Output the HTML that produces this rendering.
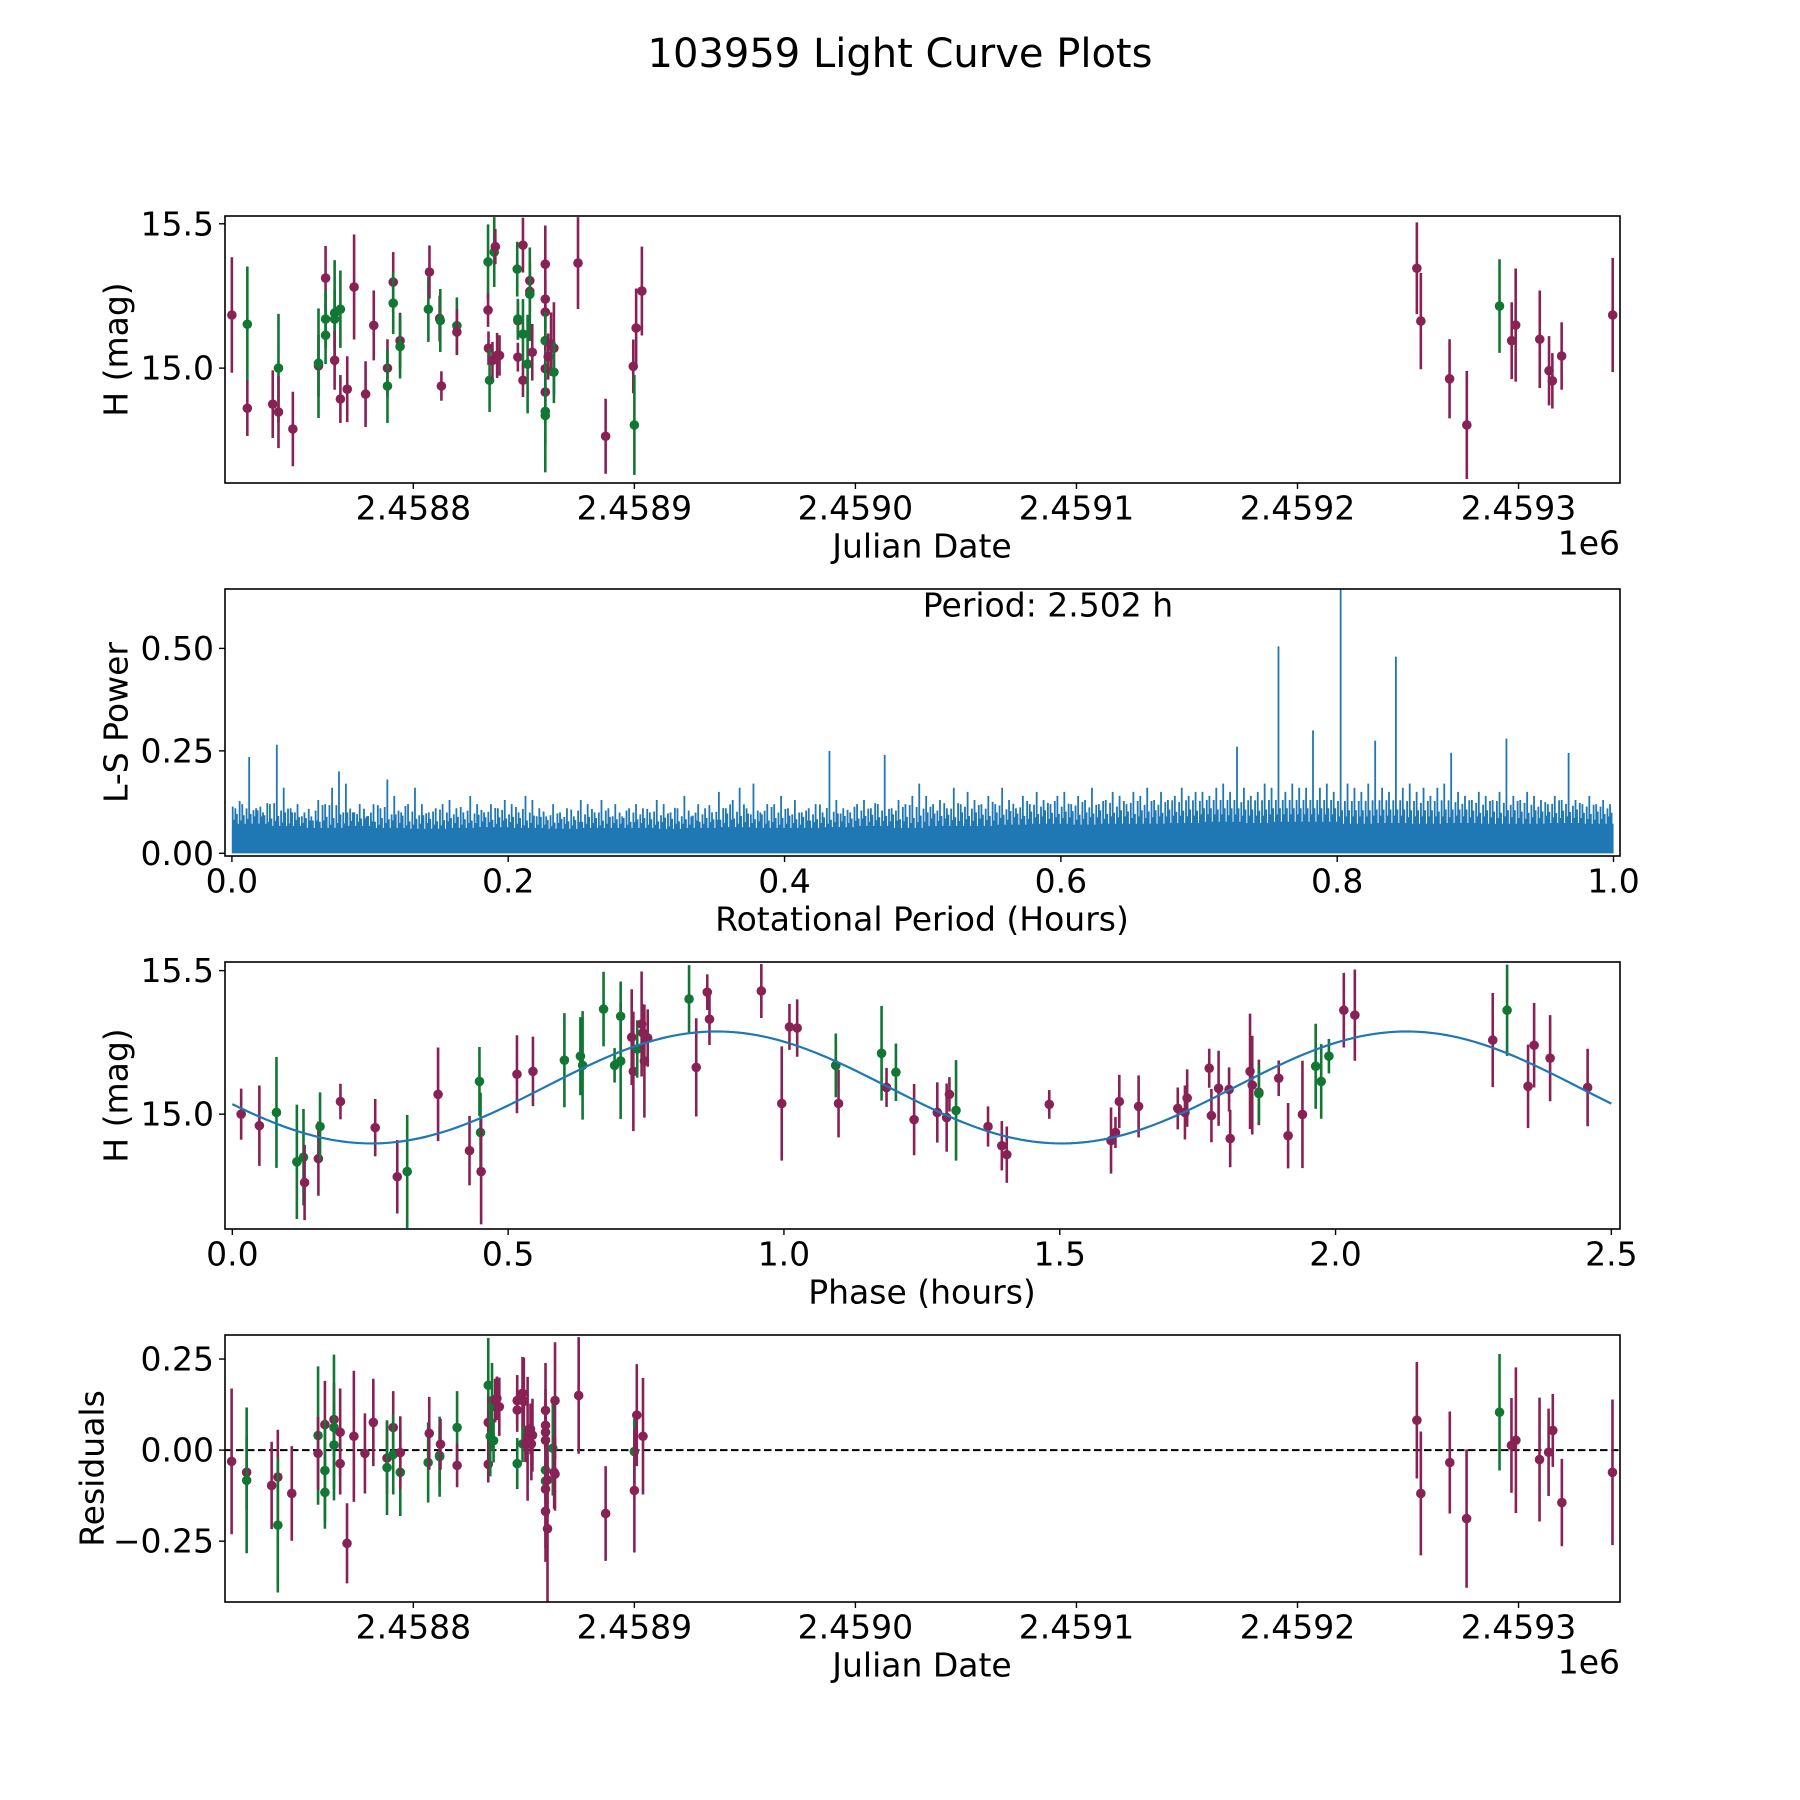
<!DOCTYPE html>
<html><head><meta charset="utf-8"><style>
html,body{margin:0;padding:0;background:#fff}
svg{display:block;font-family:"DejaVu Sans","Liberation Sans",sans-serif}
</style></head><body>
<svg id="fig" width="1800" height="1800" viewBox="0 0 1800 1800" xmlns="http://www.w3.org/2000/svg">
<rect width="1800" height="1800" fill="#fff"/>
<text x="900" y="54" font-size="40" text-anchor="middle" dominant-baseline="central">103959 Light Curve Plots</text>
</svg>
<script>
// ---- Panel 1: light curve (days relative to JD 2458800) ----
const lcDays=[-82.1,-75.1,-75.1,-63.6,-61.0,-61.0,-54.5,-42.9,-42.9,-39.7,-39.7,-39.7,-35.6,-35.6,-35.6,-33.0,-33.0,-29.9,-26.8,-21.6,-17.9,-11.7,-11.7,-9.1,-9.1,-6.0,-6.0,6.8,7.3,11.9,12.2,12.7,19.7,19.7,33.8,33.8,34.0,34.5,36.6,37.1,35.8,37.9,39.0,47.0,47.3,47.3,47.3,49.6,49.6,49.6,51.7,52.7,52.7,52.7,53.8,59.7,59.7,59.7,59.7,59.7,59.7,59.7,59.7,59.7,61.0,62.3,63.6,63.6,74.5,87.0,99.5,100.0,100.8,103.4,454.0,455.8,468.8,476.6,491.4,496.9,498.7,509.6,513.8,515.3,519.5,542.6];
const lcMag=[15.184,15.152,14.861,14.875,15.000,14.848,14.789,15.008,15.017,15.312,15.170,15.114,15.191,15.170,15.027,15.204,14.893,14.927,15.281,14.910,15.148,15.000,14.938,15.298,15.225,15.095,15.075,15.204,15.333,15.172,15.165,14.938,15.147,15.125,15.368,15.201,15.069,14.958,15.402,15.421,15.027,15.044,15.044,15.343,15.164,15.170,15.038,15.426,15.118,14.958,15.014,15.303,15.266,15.256,15.055,15.360,15.239,15.194,15.095,15.095,14.998,14.917,14.850,14.836,15.040,15.083,15.069,14.986,15.364,14.764,15.006,14.803,15.139,15.267,15.346,15.163,14.963,14.803,15.215,15.095,15.149,15.100,14.991,14.956,15.042,15.184];
const lcErr=[0.20,0.20,0.096,0.117,0.188,0.125,0.129,0.107,0.19,0.111,0.10,0.10,0.183,0.10,0.102,0.134,0.083,0.114,0.182,0.114,0.121,0.10,0.128,0.104,0.107,0.097,0.111,0.113,0.092,0.079,0.109,0.051,0.098,0.08,0.13,0.058,0.058,0.110,0.121,0.061,0.064,0.078,0.07,0.095,0.066,0.07,0.05,0.095,0.121,0.058,0.171,0.066,0.07,0.162,0.098,0.134,0.066,0.06,0.136,0.1,0.08,0.055,0.211,0.1,0.08,0.110,0.159,0.107,0.159,0.130,0.093,0.173,0.137,0.154,0.159,0.167,0.137,0.187,0.162,0.133,0.196,0.169,0.120,0.096,0.117,0.198];
const lcBand="mgmmgmmmgmggggmgmmmmmmgmgmggmmgmgmgmmggmmmmgmgmmgmgmmgmmmmmgmmggmmmgmmmgmmmmmmgmmmmmmm";
// ---- Panel 2: periodogram ----
const pgPeak=[0.11,0.12,0.235,0.11,0.10,0.12,0.265,0.16,0.11,0.12,
0.10,0.09,0.13,0.12,0.16,0.20,0.17,0.10,0.12,0.09,
0.12,0.11,0.18,0.14,0.10,0.12,0.16,0.12,0.10,0.11,
0.12,0.13,0.11,0.10,0.14,0.12,0.10,0.12,0.11,0.13,
0.12,0.10,0.14,0.13,0.11,0.09,0.12,0.10,0.11,0.09,
0.13,0.12,0.10,0.13,0.11,0.12,0.09,0.11,0.12,0.11,
0.10,0.13,0.12,0.10,0.11,0.14,0.09,0.12,0.11,0.10,
0.15,0.11,0.13,0.16,0.11,0.17,0.10,0.12,0.12,0.14,
0.11,0.13,0.10,0.11,0.12,0.10,0.25,0.13,0.11,0.10,
0.12,0.13,0.11,0.12,0.24,0.11,0.13,0.12,0.14,0.17,
0.14,0.12,0.13,0.11,0.16,0.12,0.15,0.13,0.12,0.14,
0.12,0.16,0.13,0.11,0.14,0.12,0.15,0.13,0.12,0.14,
0.15,0.12,0.14,0.13,0.16,0.12,0.13,0.15,0.14,0.12,
0.15,0.14,0.16,0.13,0.15,0.13,0.14,0.16,0.14,0.15,
0.15,0.14,0.16,0.17,0.15,0.26,0.16,0.14,0.15,0.17,
0.16,0.505,0.15,0.17,0.16,0.16,0.30,0.16,0.17,0.15,
0.645,0.17,0.16,0.15,0.17,0.275,0.16,0.15,0.48,0.16,
0.17,0.15,0.16,0.14,0.16,0.17,0.245,0.15,0.14,0.13,
0.15,0.14,0.13,0.15,0.28,0.14,0.13,0.15,0.14,0.13,
0.12,0.14,0.13,0.245,0.13,0.12,0.14,0.12,0.13,0.12];
const pgBody=[0.06,0.055,0.05,0.055,0.05,0.048,0.05,0.052,0.05,0.048,0.05,0.05,0.048,0.05,0.052,0.05,0.05,0.052,0.055,0.05,0.055,0.055,0.058,0.06,0.058,0.06,0.06,0.062,0.065,0.062,0.065,0.065,0.06,0.062,0.06,0.062,0.06,0.06,0.062,0.06];
const pgTicks=["0.0","0.2","0.4","0.6","0.8","1.0"];
// ---- Panel 3: phased light curve ----
const phPhase=[0.016,0.049,0.080,0.117,0.129,0.131,0.156,0.159,0.196,0.259,0.299,0.317,0.373,0.430,0.448,0.450,0.451,0.516,0.545,0.602,0.631,0.635,0.673,0.693,0.704,0.704,0.724,0.727,0.734,0.742,0.744,0.747,0.753,0.828,0.841,0.861,0.865,0.959,0.996,1.010,1.024,1.094,1.094,1.099,1.177,1.186,1.203,1.236,1.278,1.295,1.300,1.312,1.370,1.395,1.404,1.481,1.593,1.601,1.608,1.643,1.714,1.727,1.731,1.771,1.775,1.788,1.807,1.809,1.845,1.849,1.861,1.861,1.897,1.914,1.940,1.964,1.974,1.988,2.015,2.035,2.285,2.311,2.349,2.360,2.389,2.457];
const phMag=[15.000,14.960,15.006,14.834,14.850,14.762,14.845,14.957,15.044,14.953,14.782,14.800,15.069,14.873,15.114,14.936,14.800,15.139,15.149,15.188,15.202,15.170,15.366,15.170,15.341,15.185,15.268,15.149,15.227,15.314,15.283,15.185,15.265,15.401,15.163,15.425,15.331,15.429,15.037,15.304,15.300,15.170,15.170,15.037,15.212,15.093,15.146,14.981,15.006,14.988,15.069,15.013,14.957,14.890,14.859,15.034,14.908,14.936,15.044,15.027,15.020,15.006,15.056,15.160,14.995,15.090,15.086,14.915,15.149,15.101,15.076,15.072,15.125,14.925,14.999,15.167,15.114,15.202,15.362,15.345,15.258,15.362,15.097,15.240,15.195,15.093];
const phErr=[0.089,0.140,0.193,0.199,0.168,0.131,0.129,0.119,0.062,0.10,0.128,0.197,0.163,0.121,0.12,0.139,0.184,0.136,0.121,0.164,0.136,0.189,0.13,0.06,0.121,0.202,0.167,0.208,0.1,0.183,0.1,0.197,0.1,0.118,0.171,0.062,0.09,0.094,0.199,0.08,0.1,0.08,0.111,0.118,0.165,0.068,0.1,0.124,0.105,0.119,0.06,0.175,0.07,0.086,0.098,0.05,0.115,0.054,0.093,0.108,0.073,0.094,0.1,0.068,0.093,0.131,0.077,0.1,0.201,0.172,0.114,0.1,0.062,0.114,0.187,0.148,0.13,0.06,0.13,0.159,0.164,0.159,0.145,0.147,0.15,0.135];
const phBand="mmgggmmgmmmgmmggmmmgggggggmmgmmmmgmmmmmmmmgmgmgmmmmgmmmmmmmmmmmmmmmmmmmgmmmgggmmmgmmmm";
const fitMean=[15.093], fitAmp=[0.195], fitPeakPhase=[0.878], fitPeriod=[2.502];
// ---- Panel 4: residuals ----
const rsDays=[-82.2,-75.4,-75.4,-64.1,-61.3,-61.3,-55.0,-43.1,-43.1,-40.0,-40.0,-40.0,-35.9,-35.9,-35.9,-33.1,-33.1,-30.0,-26.9,-21.9,-18.1,-11.9,-11.9,-9.1,-9.1,-5.9,-5.9,6.7,7.2,11.9,11.9,12.3,19.8,19.8,33.9,33.9,33.9,34.8,35.6,36.3,37.0,37.8,38.9,47.0,47.0,47.0,49.4,50.0,49.4,50.7,51.7,53.0,53.4,53.9,59.8,59.8,59.8,59.8,59.8,59.8,59.8,59.8,60.7,60.7,63.1,63.7,64.1,64.1,74.8,87.0,100.0,100.0,101.1,103.9,454.0,455.8,468.9,476.5,491.4,496.8,498.8,509.5,513.6,515.5,519.6,542.5];
const rsVal=[-0.031,-0.061,-0.083,-0.097,-0.074,-0.206,-0.119,0.040,-0.009,0.070,-0.056,-0.116,0.084,0.062,0.014,0.049,-0.037,-0.256,0.038,-0.009,0.076,-0.022,-0.048,0.062,-0.012,-0.061,-0.007,-0.034,0.046,-0.015,-0.018,0.016,0.062,-0.042,0.178,0.076,-0.039,0.038,0.119,0.026,0.136,0.142,0.119,0.136,0.110,-0.037,0.156,0.134,0.017,0.017,0.031,0.058,0.017,0.041,0.109,0.068,0.049,0.027,-0.055,-0.085,-0.107,-0.168,-0.216,-0.082,0.005,-0.061,-0.066,0.136,0.150,-0.174,-0.004,-0.111,0.096,0.038,0.082,-0.119,-0.034,-0.188,0.104,0.013,0.027,-0.026,-0.006,0.054,-0.144,-0.061];
const rsErr=[0.20,0.10,0.20,0.12,0.13,0.185,0.13,0.19,0.10,0.12,0.14,0.10,0.10,0.20,0.12,0.12,0.085,0.11,0.18,0.11,0.12,0.10,0.13,0.10,0.11,0.12,0.10,0.11,0.10,0.08,0.11,0.07,0.10,0.06,0.13,0.07,0.05,0.11,0.12,0.06,0.06,0.06,0.08,0.07,0.06,0.07,0.10,0.12,0.05,0.05,0.17,0.07,0.10,0.10,0.13,0.07,0.06,0.14,0.08,0.06,0.20,0.10,0.20,0.10,0.13,0.10,0.10,0.16,0.16,0.13,0.09,0.17,0.14,0.16,0.16,0.17,0.14,0.19,0.16,0.13,0.20,0.17,0.12,0.10,0.12,0.20];
const rsBand="mmgmmgmgmmggmggdmmmmmmgmggmgmmgmgmgmmgggmmmmmgmmgmmmmmmmmmggmmmmgmmmmmgmmmmmmmgmmmmmmm";
const jdTicks=["2.4588","2.4589","2.4590","2.4591","2.4592","2.4593"];
const jdTickDays=[0,100,200,300,400,500];
const magTicks=[15.0,15.5];
const pwTicks=[0,0.25,0.5];
const phTicks=[0,0.5,1.0,1.5,2.0,2.5];
const rsTicks=[-0.25,0,0.25];

const NS="http://www.w3.org/2000/svg";
const svg=document.getElementById('fig');
const COL={m:"#882255",g:"#117733",d:"#882255"};
function mk(tag,attrs,parent){const e=document.createElementNS(NS,tag);for(const k in attrs)e.setAttribute(k,attrs[k]);(parent||svg).appendChild(e);return e;}
function scale(d0,d1,p0,p1){return v=>p0+(v-d0)/(d1-d0)*(p1-p0);}

function makeAxes(name,y0,y1,xlim,ylim){
  const g=mk('g',{});
  
  
  const ax={g,x0:225,x1:1620,y0,y1,sx:scale(xlim[0],xlim[1],225,1620),sy:scale(ylim[0],ylim[1],y1,y0)};
  const cid='clip-'+name;
  const cp=mk('clipPath',{id:cid},g);mk('rect',{x:225,y:y0,width:1395,height:y1-y0},cp);
  ax.plot=mk('g',{'clip-path':'url(#'+cid+')'},g);
  
  
  return ax;
}
function frame(ax){const r=mk('rect',{x:225,y:ax.y0,width:1395,height:ax.y1-ax.y0,fill:'none',stroke:'#000','stroke-width':1.6},ax.g);
  
  }
function xTicks(ax,vals,labels){vals.forEach((v,i)=>{const x=ax.sx(v);
  mk('line',{x1:x,x2:x,y1:ax.y1,y2:ax.y1+6,stroke:'#000','stroke-width':1.4},ax.g);
  const t=mk('text',{x:x,y:ax.y1+25,'font-size':33,'text-anchor':'middle','dominant-baseline':'central'},ax.g);
  
  
  t.textContent=labels[i];});}
function yTicks(ax,vals,labels){vals.forEach((v,i)=>{const y=ax.sy(v);
  mk('line',{x1:219,x2:225,y1:y,y2:y,stroke:'#000','stroke-width':1.4},ax.g);
  const t=mk('text',{x:214,y:y,'font-size':33,'text-anchor':'end','dominant-baseline':'central'},ax.g);
  
  
  t.textContent=labels[i];});}
function labels(ax,xl,yl,ylx,name){
  const t=mk('text',{x:922,y:ax.y1+63,'font-size':33,'text-anchor':'middle','dominant-baseline':'central'},ax.g);
  
  
  t.textContent=xl;
  const cy=(ax.y0+ax.y1)/2;
  const u=mk('text',{x:ylx,y:cy,'font-size':33,'text-anchor':'middle','dominant-baseline':'central',transform:'rotate(-90 '+ylx+' '+cy+')'},ax.g);
  
  
  u.textContent=yl;
}
function offsetLabel(ax){const t=mk('text',{x:1620,y:ax.y1+60,'font-size':33,'text-anchor':'end','dominant-baseline':'central'},ax.g);
  
  
  t.textContent='1e6';}
function errPoints(ax,xs,ys,es,band,nm){
  xs.forEach((xv,i)=>{const c=COL[band[i]]||COL.m;const x=ax.sx(xv);
    const g=mk('g',{},ax.plot);
    
    
    mk('line',{x1:x,x2:x,y1:ax.sy(ys[i]-es[i]),y2:ax.sy(ys[i]+es[i]),stroke:c,'stroke-width':2.6},g);
    mk('circle',{cx:x,cy:ax.sy(ys[i]),r:4.8,fill:c},g);});
}

// Panel 1
const a1=makeAxes('light-curve-panel',216,483,[-85.2,545.9],[14.602,15.527]);
errPoints(a1,lcDays,lcMag,lcErr,lcBand,'light-curve');
frame(a1);xTicks(a1,jdTickDays,jdTicks);yTicks(a1,magTicks,magTicks.map(v=>v.toFixed(1)));
labels(a1,'Julian Date','H (mag)',116,'light-curve');offsetLabel(a1);

// Panel 2
const a2=makeAxes('periodogram-panel',589,856,[-0.005,1.0047],[-0.0066,0.645]);
(function(){
  const bw=1/pgBody.length;let d='M'+a2.sx(0)+' '+a2.sy(0);
  pgBody.forEach((v,i)=>{d+=' L'+a2.sx(i*bw)+' '+a2.sy(v)+' L'+a2.sx((i+1)*bw)+' '+a2.sy(v);});
  d+=' L'+a2.sx(1)+' '+a2.sy(0)+' Z';
  const p=mk('path',{d:d,fill:'#1f77b4'},a2.plot);
  
  
  const n=pgPeak.length,w=1/n;let pd='';
  pgPeak.forEach((v,i)=>{const x=a2.sx((i+0.5)*w);pd+='M'+x+' '+a2.sy(0)+' L'+x+' '+a2.sy(v)+' ';
    const b=pgBody[Math.floor(i*w/bw)];
    const nb=pgPeak[(i+1)%n], pb=pgPeak[(i+n-1)%n], nb2=pgPeak[(i+3)%n];
    const h1=Math.min(0.13,b+Math.min(nb,0.15)*0.45), h2=Math.min(0.12,b+Math.min(pb,0.15)*0.3), h3=Math.min(0.12,b+Math.min(nb2,0.15)*0.2);
    [[0.12,h1],[0.3,h3],[0.72,h2],[0.88,b+0.012]].forEach(o=>{const xx=a2.sx((i+o[0])*w);
      pd+='M'+xx+' '+a2.sy(0)+' L'+xx+' '+a2.sy(o[1])+' ';});});
  const l=mk('path',{d:pd,stroke:'#1f77b4','stroke-width':1.8,fill:'none'},a2.plot);
  
  
})();
frame(a2);xTicks(a2,pgTicks.map(Number),pgTicks);yTicks(a2,pwTicks,pwTicks.map(v=>v.toFixed(2)));
labels(a2,'Rotational Period (Hours)','L-S Power',116,'periodogram');
(function(){const t=mk('text',{x:1048,y:605,'font-size':33,'text-anchor':'middle','dominant-baseline':'central'},a2.g);
 
 
 t.textContent='Period: '+fitPeriod[0].toFixed(3)+' h';})();

// Panel 3
const a3=makeAxes('phase-panel',962,1229,[-0.0133,2.5157],[14.60,15.53]);
errPoints(a3,phPhase,phMag,phErr,phBand,'phase');
(function(){let d='';const half=fitPeriod[0]/2;
  for(let k=0;k<=250;k++){const ph=k/100;const m=fitMean[0]+fitAmp[0]*Math.cos(2*Math.PI*(ph-fitPeakPhase[0])/half);
    d+=(k?' L':'M')+a3.sx(ph)+' '+a3.sy(m);}
  const p=mk('path',{d:d,stroke:'#1f77b4','stroke-width':2.2,fill:'none'},a3.plot);
  
  })();
frame(a3);xTicks(a3,phTicks,phTicks.map(v=>v.toFixed(1)));yTicks(a3,magTicks,magTicks.map(v=>v.toFixed(1)));
labels(a3,'Phase (hours)','H (mag)',116,'phase');

// Panel 4
const a4=makeAxes('residuals-panel',1335,1602,[-85.2,545.9],[-0.417,0.316]);
(function(){const l=mk('line',{x1:225,x2:1620,y1:a4.sy(0),y2:a4.sy(0),stroke:'#000','stroke-width':2,'stroke-dasharray':'7.5,3.5'},a4.plot);
 
 })();
errPoints(a4,rsDays,rsVal,rsErr,rsBand,'residual');
frame(a4);xTicks(a4,jdTickDays,jdTicks);yTicks(a4,rsTicks,rsTicks.map(v=>(v<0?'\u2212':'')+Math.abs(v).toFixed(2)));
labels(a4,'Julian Date','Residuals',92,'residuals');offsetLabel(a4);
</script>
</body></html>
